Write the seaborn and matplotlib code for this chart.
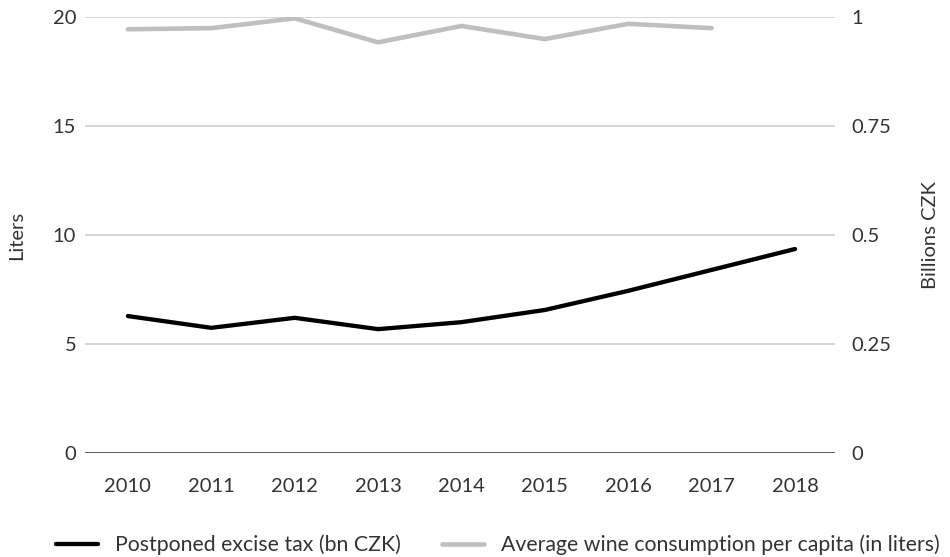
import matplotlib
matplotlib.use("Agg")
import matplotlib.pyplot as plt
import seaborn as sns
import pandas as pd
from matplotlib.lines import Line2D

years = [2010, 2011, 2012, 2013, 2014, 2015, 2016, 2017, 2018]
excise_tax_bn = [0.314, 0.287, 0.310, 0.284, 0.300, 0.328, 0.372, 0.420, 0.468]
wine_years = [2010, 2011, 2012, 2013, 2014, 2015, 2016, 2017]
wine_liters = [19.45, 19.5, 19.95, 18.85, 19.6, 19.0, 19.7, 19.5]

left_ticks = [0, 5, 10, 15, 20]
right_ticks = [0, 0.25, 0.5, 0.75, 1]
right_labels = ["0", "0.25", "0.5", "0.75", "1"]

sns.set_style("white")
plt.rcParams["font.family"] = ["Lato", "DejaVu Sans"]
plt.rcParams["font.size"] = 14.5

BLACK = "#000000"
GREY = "#bfbfbf"
TEXT = "#333333"

fig = plt.figure(figsize=(9.5, 5.57), dpi=100)
ax = fig.add_axes([0.089, 0.187, 0.790, 0.782])
ax2 = ax.twinx()

wine_df = pd.DataFrame({"year": wine_years, "liters": wine_liters})
tax_df = pd.DataFrame({"year": years, "bn": excise_tax_bn})

sns.lineplot(data=wine_df, x="year", y="liters", ax=ax, color=GREY, linewidth=3.3, zorder=3)
sns.lineplot(data=tax_df, x="year", y="bn", ax=ax2, color=BLACK, linewidth=3.1, zorder=3)

ax.set_xlim(2009.48, 2018.48)
ax.set_ylim(0, 20)
ax2.set_ylim(0, 1)
ax.set_yticks(left_ticks)
ax.set_yticklabels([str(t) for t in left_ticks])
ax2.set_yticks(right_ticks)
ax2.set_yticklabels(right_labels)
ax.set_xticks(years)
ax.set_xticklabels([str(y) for y in years])

for t in left_ticks[1:]:
    ax.axhline(t, color="#d0d0d0", linewidth=1.2, zorder=1)
ax.axhline(0, color="#404040", linewidth=1.2, zorder=2)

for a in (ax, ax2):
    for s in a.spines.values():
        s.set_visible(False)
    a.tick_params(length=0, colors=TEXT, labelsize=14.5)
ax.tick_params(axis="x", pad=18)
ax.tick_params(axis="y", pad=6)
ax2.tick_params(axis="y", pad=12)

ax.set_xlabel("")
ax.set_ylabel("Liters", color=TEXT, fontsize=14.5, labelpad=20)
ax2.set_ylabel("Billions CZK", color=TEXT, fontsize=14.5, labelpad=22)

handles = [Line2D([0], [0], color=BLACK, linewidth=3.1),
           Line2D([0], [0], color=GREY, linewidth=3.3)]
labels = ["Postponed excise tax (bn CZK)",
          "Average wine consumption per capita (in liters)"]
fig.legend(handles, labels, loc="center", bbox_to_anchor=(0.524, 0.022),
           ncol=2, frameon=False, fontsize=15.3, handlelength=2.0,
           handletextpad=0.8, columnspacing=1.9, labelcolor=TEXT,
           borderpad=0)

fig.savefig("out.png", dpi=100)
